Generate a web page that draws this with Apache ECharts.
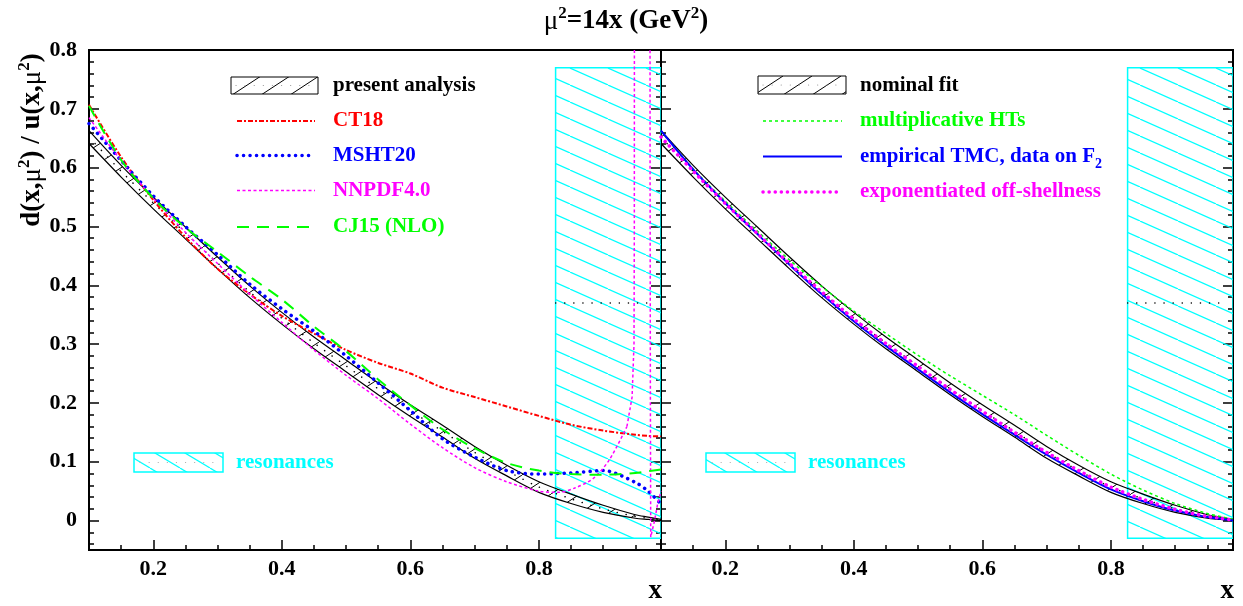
<!DOCTYPE html>
<html><head><meta charset="utf-8">
<script src="https://cdn.jsdelivr.net/npm/echarts@6/dist/echarts.min.js"></script>
<style>html,body{margin:0;padding:0;background:#fff}#c{width:1243px;height:606px}</style>
</head><body><div id="c"></div>
<script>
// ---------------- data ----------------
const xs = [0.10,0.15,0.20,0.25,0.30,0.35,0.40,0.45,0.50,0.55,0.60,0.65,0.70,0.75,0.80,0.85,0.90,0.95,0.97,0.99];
const bandMid = [0.652,0.594,0.540,0.489,0.438,0.389,0.344,0.302,0.263,0.224,0.187,0.152,0.116,0.085,0.057,0.037,0.020,0.007,0.004,0.001];
const bandHi  = [0.663,0.604,0.550,0.499,0.448,0.399,0.354,0.312,0.273,0.234,0.197,0.162,0.126,0.094,0.066,0.045,0.026,0.010,0.006,0.002];
const bandLo  = [0.641,0.584,0.530,0.479,0.428,0.379,0.334,0.292,0.253,0.214,0.177,0.142,0.106,0.076,0.048,0.029,0.014,0.004,0.002,0.000];
const ct18    = [0.707,0.618,0.545,0.482,0.428,0.385,0.348,0.318,0.290,0.268,0.250,0.226,0.210,0.194,0.178,0.163,0.153,0.146,0.144,0.143];
const msht20  = [0.675,0.612,0.552,0.500,0.452,0.402,0.360,0.322,0.280,0.234,0.187,0.139,0.108,0.085,0.079,0.081,0.085,0.065,0.050,0.028];
const cj15    = [0.705,0.613,0.548,0.498,0.457,0.415,0.376,0.330,0.288,0.240,0.196,0.155,0.123,0.098,0.085,0.079,0.078,0.081,0.084,0.087];
const nnpdfX  = [0.10,0.15,0.20,0.25,0.30,0.35,0.40,0.45,0.50,0.55,0.60,0.65,0.70,0.75,0.80,0.83,0.855,0.885,0.91,0.937];
const nnpdf   = [0.685,0.612,0.548,0.490,0.437,0.385,0.337,0.290,0.247,0.207,0.164,0.124,0.090,0.066,0.050,0.048,0.055,0.072,0.104,0.160];
const nnpdfTailX = [0.937,0.945,0.948,0.9485,0.949,0.9725,0.973,0.9735,0.974,0.98,0.985,0.99];
const nnpdfTail  = [0.160,0.210,0.300,0.500,2.0,2.0,0.60,0.20,-0.028,0.000,0.030,0.050];
const multHT  = [0.662,0.598,0.543,0.492,0.443,0.398,0.356,0.318,0.281,0.246,0.213,0.180,0.145,0.111,0.079,0.052,0.029,0.012,0.007,0.002];
const empTMC  = [0.663,0.597,0.540,0.487,0.435,0.385,0.339,0.297,0.257,0.218,0.181,0.146,0.112,0.081,0.053,0.033,0.017,0.006,0.003,0.000];
const expOff  = [0.652,0.594,0.539,0.488,0.437,0.389,0.343,0.301,0.262,0.223,0.186,0.150,0.116,0.085,0.057,0.036,0.019,0.007,0.004,0.001];
const resBox  = {x0:0.826, x1:0.99, y0:-0.03, y1:0.77};
const resLine = {x0:0.826, x1:0.977, y:0.37};
const xMajor = [0.2,0.4,0.6,0.8];
const xMinor = [0.15,0.25,0.3,0.35,0.45,0.5,0.55,0.65,0.7,0.75,0.85,0.9,0.95];
const yMajor = [0,0.1,0.2,0.3,0.4,0.5,0.6,0.7,0.8];
const yMinor = [-0.04,-0.02,0.02,0.04,0.06,0.08,0.12,0.14,0.16,0.18,0.22,0.24,0.26,0.28,0.32,0.34,0.36,0.38,
                0.42,0.44,0.46,0.48,0.52,0.54,0.56,0.58,0.62,0.64,0.66,0.68,0.72,0.74,0.76,0.78];

// ---------------- helpers ----------------
const FONT = '"Liberation Serif","Times New Roman",serif';
const pairs = (x, y) => x.map((v, i) => [v, y[i]]);
function hatch(w, h, color, dir, lw) {
  const c = document.createElement('canvas'); c.width = w; c.height = h;
  const g = c.getContext('2d'); g.strokeStyle = color; g.lineWidth = lw;
  for (const k of [-1, 0, 1]) {
    g.beginPath();
    if (dir === '/') { g.moveTo(k * w, h); g.lineTo(k * w + w, 0); }
    else { g.moveTo(k * w, 0); g.lineTo(k * w + w, h); }
    g.stroke();
  }
  return { image: c, repeat: 'repeat' };
}
const bandPat = hatch(29, 19, '#000', '/', 1);
const resPat = hatch(38, 17, '#00ffff', '\\', 1.2);
const resLegPat = hatch(30, 18, '#00ffff', '\\', 1.2);

function xAxes(grid) {
  const base = { gridIndex: grid, type: 'value', min: 0.1, max: 0.99, position: 'bottom',
    splitLine: { show: false }, axisLine: { show: false, onZero: false } };
  return [
    Object.assign({}, base, {
      axisTick: { show: true, inside: true, length: 10, customValues: xMajor, lineStyle: { color: '#000', width: 1.5 } },
      axisLabel: { show: true, customValues: xMajor, formatter: v => v.toFixed(1), color: '#000',
        fontFamily: FONT, fontWeight: 'bold', fontSize: 22, margin: 8 }
    }),
    Object.assign({}, base, {
      axisTick: { show: true, inside: true, length: 5, customValues: xMinor, lineStyle: { color: '#000', width: 1.5 } },
      axisLabel: { show: false }
    })
  ];
}
function yAxes(grid, labels) {
  const base = { gridIndex: grid, type: 'value', min: -0.05, max: 0.8,
    splitLine: { show: false }, axisLine: { show: false, onZero: false } };
  const mk = (pos, len, vals, lab) => Object.assign({}, base, { position: pos,
    axisTick: { show: true, inside: true, length: len, customValues: vals, lineStyle: { color: '#000', width: 1.5 } },
    axisLabel: lab ? { show: true, customValues: yMajor, formatter: v => (v === 0 ? '0' : v.toFixed(1)), color: '#000',
      fontFamily: FONT, fontWeight: 'bold', fontSize: 22, margin: 12 } : { show: false } });
  return [mk('left', 10, yMajor, labels), mk('left', 5, yMinor, false), mk('right', 10, yMajor, false), mk('right', 5, yMinor, false)];
}

function bandSeries(xi, yi) {
  return [
    { type: 'custom', xAxisIndex: xi, yAxisIndex: yi, clip: true, silent: true, z: 3, data: [[0.5, 0.3]],
      renderItem: (p, api) => {
        const pts = [];
        for (let i = 0; i < xs.length; i++) pts.push(api.coord([xs[i], bandHi[i]]));
        for (let i = xs.length - 1; i >= 0; i--) pts.push(api.coord([xs[i], bandLo[i]]));
        return { type: 'polygon', shape: { points: pts }, style: { fill: bandPat, stroke: null } };
      } },
    { type: 'line', xAxisIndex: xi, yAxisIndex: yi, data: pairs(xs, bandHi), smooth: 0.3, symbol: 'none', z: 4,
      lineStyle: { color: '#000', width: 1.2 } },
    { type: 'line', xAxisIndex: xi, yAxisIndex: yi, data: pairs(xs, bandLo), smooth: 0.3, symbol: 'none', z: 4,
      lineStyle: { color: '#000', width: 1.2 } },
    { type: 'line', xAxisIndex: xi, yAxisIndex: yi, data: pairs(xs, bandMid), smooth: 0.3, symbol: 'none', z: 4,
      lineStyle: { color: '#000', width: 1.5, type: [0.1, 9], cap: 'round' } }
  ];
}
function resSeries(xi, yi) {
  return [
    { type: 'custom', xAxisIndex: xi, yAxisIndex: yi, clip: true, silent: true, z: 2, data: [[0.9, 0.3]],
      renderItem: (p, api) => {
        const a = api.coord([resBox.x0, resBox.y1]), b = api.coord([resBox.x1, resBox.y0]);
        return { type: 'rect', shape: { x: a[0], y: a[1], width: b[0] - a[0], height: b[1] - a[1] },
          style: { fill: resPat, stroke: '#00ffff', lineWidth: 1.5 } };
      } },
    { type: 'line', xAxisIndex: xi, yAxisIndex: yi, data: [[resLine.x0, resLine.y], [resLine.x1, resLine.y]],
      symbol: 'none', z: 3, lineStyle: { color: '#000', width: 1.5, type: [0.1, 9], cap: 'round' } }
  ];
}
const ln = (xi, yi, x, y, style, smooth) => ({ type: 'line', xAxisIndex: xi, yAxisIndex: yi, data: pairs(x, y),
  smooth: smooth === undefined ? 0.3 : smooth, symbol: 'none', z: 6, clip: true, lineStyle: style });

const sCT = { color: '#ff0000', width: 2, type: [5, 2, 2, 2] };
const sMS = { color: '#0000ff', width: 3.5, type: [0.1, 6.4], cap: 'round' };
const sNN = { color: '#ff00ff', width: 1.5, type: [3, 2.5] };
const sCJ = { color: '#00ff00', width: 2, type: [12, 8] };
const sHT = { color: '#00ff00', width: 1.5, type: [3, 3] };
const sTM = { color: '#0000ff', width: 2 };
const sOF = { color: '#ff00ff', width: 3.5, type: [0.1, 6], cap: 'round' };

// ---------------- legend graphics ----------------
const LFONT = 'bold 21px ' + FONT;
const txt = (x, y, text, color) => ({ type: 'text', x: x, y: y,
  style: { text: text, fill: color, font: LFONT, verticalAlign: 'middle' } });
const sample = (x1, x2, y, st) => ({ type: 'line', shape: { x1: x1, y1: y, x2: x2, y2: y },
  style: { stroke: st.color, lineWidth: st.width, lineDash: st.type || null, lineCap: st.cap || 'butt' } });
const box = (x, y, w, h, fill, stroke, lw) => ({ type: 'rect', shape: { x: x, y: y, width: w, height: h },
  style: { fill: fill, stroke: stroke, lineWidth: lw } });
const dots = (x1, x2, y, c) => ({ type: 'line', shape: { x1: x1, y1: y, x2: x2, y2: y },
  style: { stroke: c, lineWidth: 1.2, lineDash: [0.1, 9], lineCap: 'round' } });
const big = (x, y, text) => ({ type: 'text', x: x, y: y,
  style: { text: text, fill: '#000', font: 'bold 27px ' + FONT, align: 'right', verticalAlign: 'middle' } });

const graphics = [
  // left legend
  box(231, 77, 87, 17, bandPat, '#000', 1), dots(236, 316, 85.5, '#999'),
  txt(333, 86, 'present analysis', '#000'),
  sample(237, 315, 121, sCT), txt(333, 121, 'CT18', '#ff0000'),
  sample(237, 315, 155.5, sMS), txt(333, 156, 'MSHT20', '#0000ff'),
  sample(237, 315, 190.5, sNN), txt(333, 191, 'NNPDF4.0', '#ff00ff'),
  sample(237, 315, 227, sCJ), txt(333, 227, 'CJ15 (NLO)', '#00ff00'),
  box(134, 453, 89, 19, resLegPat, '#00ffff', 1.5), dots(140, 220, 462.5, '#aaa'),
  txt(236, 463, 'resonances', '#00ffff'),
  // right legend
  box(758, 76, 88, 18, bandPat, '#000', 1), dots(763, 843, 85, '#999'),
  txt(860, 86, 'nominal fit', '#000'),
  sample(763, 842, 121, sHT), txt(860, 121, 'multiplicative HTs', '#00ff00'),
  sample(763, 842, 156.5, sTM),
  { type: 'text', x: 860, y: 157, style: { text: '{b|empirical TMC, data on F}{s|2}', fill: '#0000ff',
      verticalAlign: 'middle', rich: {
        b: { font: LFONT, fill: '#0000ff', lineHeight: 22, verticalAlign: 'top' },
        s: { font: 'bold 14px ' + FONT, fill: '#0000ff', lineHeight: 14, verticalAlign: 'top', padding: [11, 0, 0, 0] } } } },
  sample(763, 842, 192, sOF), txt(860, 192, 'exponentiated off-shellness', '#ff00ff'),
  box(706, 453, 89, 19, resLegPat, '#00ffff', 1.5), dots(712, 792, 462.5, '#aaa'),
  txt(808, 463, 'resonances', '#00ffff'),
  // axis titles
  big(662, 591, 'x'), big(1234, 591, 'x'),
  { type: 'text', x: 31, y: 140, rotation: Math.PI / 2,
    style: { text: '{b|d(x,}{m|μ}{s|2}{b|) / u(x,}{m|μ}{s|2}{b|)}', align: 'center', verticalAlign: 'middle',
      rich: {
        b: { font: 'bold 27px ' + FONT, fill: '#000', lineHeight: 30, verticalAlign: 'bottom' },
        m: { font: '27px ' + FONT, fill: '#000', lineHeight: 30, verticalAlign: 'bottom' },
        s: { font: 'bold 17px ' + FONT, fill: '#000', lineHeight: 16, verticalAlign: 'top' } } } },
  { type: 'text', x: 626, y: 20,
    style: { text: '{m|μ}{s|2}{b|=14x (GeV}{s|2}{b|)}', align: 'center', verticalAlign: 'middle',
      rich: {
        b: { font: 'bold 27px ' + FONT, fill: '#000', lineHeight: 30, verticalAlign: 'bottom' },
        m: { font: '27px ' + FONT, fill: '#000', lineHeight: 30, verticalAlign: 'bottom' },
        s: { font: 'bold 17px ' + FONT, fill: '#000', lineHeight: 16, verticalAlign: 'top' } } } }
];

// ---------------- chart ----------------
const chart = echarts.init(document.getElementById('c'), null, { renderer: 'canvas' });
chart.setOption({
  animation: false,
  backgroundColor: '#fff',
  grid: [
    { left: 89, top: 50, width: 572, height: 500, show: true, borderColor: '#000', borderWidth: 2, backgroundColor: 'transparent' },
    { left: 661, top: 50, width: 572, height: 500, show: true, borderColor: '#000', borderWidth: 2, backgroundColor: 'transparent' }
  ],
  xAxis: [].concat(xAxes(0), xAxes(1)),
  yAxis: [].concat(yAxes(0, true), yAxes(1, false)),
  series: [].concat(
    resSeries(0, 0), bandSeries(0, 0),
    [ ln(0, 0, xs, ct18, sCT), ln(0, 0, xs, msht20, sMS), ln(0, 0, nnpdfX, nnpdf, sNN), ln(0, 0, nnpdfTailX, nnpdfTail, sNN, false),
      ln(0, 0, xs, cj15, sCJ) ],
    resSeries(2, 4), bandSeries(2, 4),
    [ ln(2, 4, xs, multHT, sHT), ln(2, 4, xs, empTMC, sTM), ln(2, 4, xs, expOff, sOF) ]
  ),
  graphic: graphics
});
</script></body></html>
